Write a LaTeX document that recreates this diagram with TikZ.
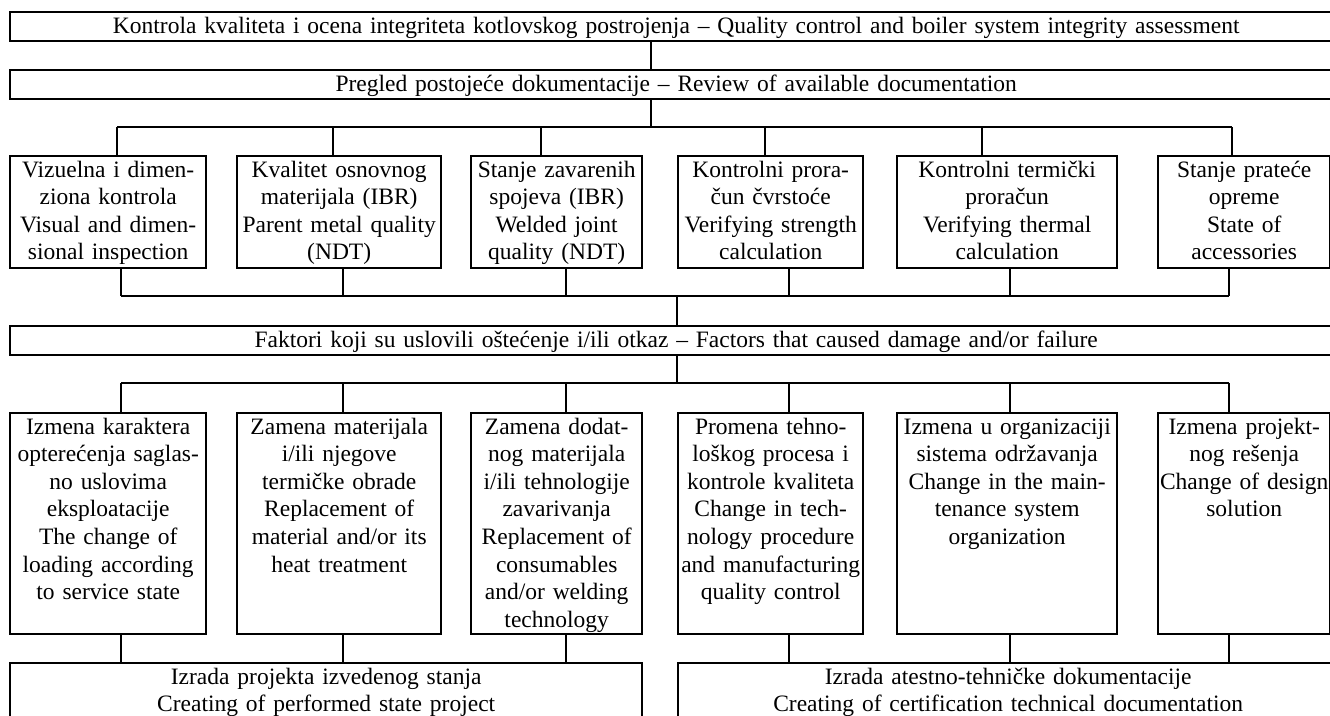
\documentclass[tikz,border=0pt]{standalone}
\usepackage{fontspec}
\setmainfont{Liberation Serif}
\usepackage{tikz}
\usetikzlibrary{positioning}

\begin{document}
\begin{tikzpicture}[x=0.5pt,y=-0.5pt,line width=1.2pt,
        box/.style={draw,anchor=north west,inner xsep=0pt,inner ysep=1pt,align=center,
                    font={\fontsize{11.75pt}{13.8pt}\selectfont},text height=9.5pt},
        wide/.style={box,text width=666pt,text depth=3pt},
        cell/.style={box,text depth=44.5pt},
        tall/.style={box,text depth=99pt},
        foot/.style={box,text depth=40pt}]
        \useasboundingbox (0,0) rectangle (1330,716);
        \clip (0,0) rectangle (1330,716);
        % the two headline boxes
        \node[wide] (top) at (9,11) {Kontrola kvaliteta i ocena integriteta kotlovskog postrojenja – Quality control and boiler system integrity assessment};
        \node[wide] (pregled) at (9,69) {Pregled postojeće dokumentacije – Review of available documentation};
        % checks
        \node[cell,text width=98pt] (v1) at (9,155) {Vizuelna i dimen-\\ziona kontrola\\Visual and dimen-\\sional inspection};
        \node[cell,text width=102pt] (v2) at (236,155) {Kvalitet osnovnog\\materijala (IBR)\\Parent metal quality\\(NDT)};
        \node[cell,text width=85.5pt] (v3) at (470,155) {Stanje zavarenih\\spojeva (IBR)\\Welded joint\\quality (NDT)};
        \node[cell,text width=92.5pt] (v4) at (677,155) {Kontrolni prora-\\čun čvrstoće\\Verifying strength\\calculation};
        \node[cell,text width=110pt] (v5) at (896,155) {Kontrolni termički\\proračun\\Verifying thermal\\calculation};
        \node[cell,text width=86pt] (v6) at (1157,155) {Stanje prateće\\opreme\\State of\\accessories};
        \node[wide] (faktori) at (9,325) {Faktori koji su uslovili oštećenje i/ili otkaz – Factors that caused damage and/or failure};
        % factors
        \node[tall,text width=98pt] (f1) at (9,412) {Izmena karaktera\\opterećenja saglas-\\no uslovima\\eksploatacije\\The change of\\loading according\\to service state};
        \node[tall,text width=102pt] (f2) at (236,412) {Zamena materijala\\i/ili njegove\\termičke obrade\\Replacement of\\material and/or its\\heat treatment};
        \node[tall,text width=85.5pt] (f3) at (470,412) {Zamena dodat-\\nog materijala\\i/ili tehnologije\\zavarivanja\\Replacement of\\consumables\\and/or welding\\technology};
        \node[tall,text width=92.5pt] (f4) at (677,412) {Promena tehno-\\loškog procesa i\\kontrole kvaliteta\\Change in tech-\\nology procedure\\and manufacturing\\quality control};
        \node[tall,text width=110pt] (f5) at (896,412) {Izmena u organizaciji\\sistema održavanja\\Change in the main-\\tenance system\\organization};
        \node[tall,text width=86pt] (f6) at (1157,412) {Izmena projekt-\\nog rešenja\\Change of design\\solution};
        % results
        \node[foot,text width=316pt] (left) at (9,662) {Izrada projekta izvedenog stanja\\Creating of performed state project};
        \node[foot,text width=330pt] (right) at (677,662) {Izrada atestno-tehničke dokumentacije\\Creating of certification technical documentation};
        % buses
        \coordinate (busa) at (0,127);
        \coordinate (busb) at (0,296);
        \coordinate (busc) at (0,383);
        \draw (top.south -| 651,0) -- (pregled.north -| 651,0);
        \draw (pregled.south -| 651,0) -- (busa -| 651,0);
        \draw (busa -| 117,0) -- (busa -| 1232,0);
        \foreach \n/\x in {v1/117,v2/333,v3/541,v4/765,v5/982,v6/1232}
          \draw (busa -| \x,0) -- (\n.north -| \x,0);
        \foreach \n/\x in {v1/121,v2/343,v3/566,v4/789,v5/1010,v6/1229}
          \draw (\n.south -| \x,0) -- (busb -| \x,0);
        \draw (busb -| 121,0) -- (busb -| 1229,0);
        \draw (busb -| 677,0) -- (faktori.north -| 677,0);
        \draw (faktori.south -| 677,0) -- (busc -| 677,0);
        \draw (busc -| 121,0) -- (busc -| 1229,0);
        \foreach \n/\x in {f1/121,f2/343,f3/566,f4/789,f5/1010,f6/1229}
          \draw (busc -| \x,0) -- (\n.north -| \x,0);
        \foreach \n/\m/\x in {f1/left/121,f2/left/343,f3/left/566,f4/right/789,f5/right/1010,f6/right/1229}
          \draw (\n.south -| \x,0) -- (\m.north -| \x,0);
\end{tikzpicture}
\end{document}
